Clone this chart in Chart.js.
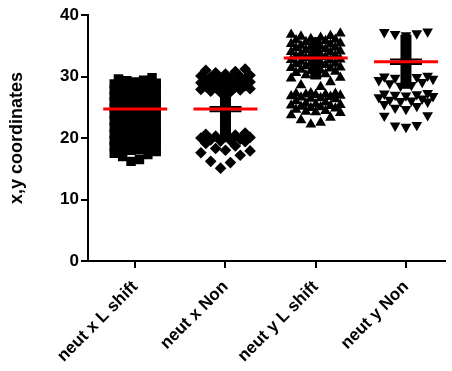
<!DOCTYPE html>
<html>
<head>
<meta charset="utf-8">
<script src="https://cdn.jsdelivr.net/npm/chart.js@4/dist/chart.umd.min.js"></script>
<style>
  html, body { margin: 0; padding: 0; background: #fff; }
  canvas { display: block; }
</style>
</head>
<body>
<canvas id="plot" width="452" height="371"></canvas>
<script>
// Group labels along the x axis
const categories = ['neut x L shift', 'neut x Non', 'neut y L shift', 'neut y Non'];

// Individual measurements per group
const neutXLShift = [
  16.2, 16.5, 17.0, 17.3, 17.5, 17.8,
  18.0, 18.1, 18.3, 18.5, 18.6,
  18.8, 19.0, 19.1, 19.3, 19.5, 19.6,
  19.8, 20.0, 20.1, 20.3, 20.5,
  20.6, 20.8, 21.0, 21.1, 21.3, 21.5,
  21.7, 21.9, 22.1, 22.4, 22.6,
  22.8, 22.9, 23.1, 23.3, 23.4, 23.6,
  23.8, 23.9, 24.1, 24.3, 24.4,
  24.6, 24.7, 24.9, 25.1, 25.2, 25.4,
  25.5, 25.7, 25.9, 26.0, 26.2,
  26.3, 26.5, 26.7, 26.8, 27.0, 27.1,
  27.3, 27.5, 27.6, 27.8, 28.0,
  28.1, 28.3, 28.5, 28.6, 28.8, 28.9,
  29.1, 29.3, 29.4, 29.6, 29.8
];
const neutXNon = [
  15.1, 16.0, 16.2, 17.2, 17.6, 17.9,
  18.0, 18.3, 18.7, 19.1, 19.4,
  19.5, 19.6, 19.7, 19.8, 20.0, 20.1,
  20.2, 20.3, 20.5, 20.6, 20.8,
  27.4, 27.5, 27.6, 27.8, 27.9, 28.0,
  28.1, 28.2, 28.3, 28.4, 28.5,
  28.6, 28.7, 28.8, 28.9, 29.0, 29.1,
  29.2, 29.3, 29.4, 29.5, 29.6,
  29.7, 29.8, 29.9, 30.0, 30.1, 30.2,
  30.4, 30.6, 30.8, 31.0, 31.2
];
const neutYLShift = [
  22.2, 22.5, 22.9, 23.3, 23.7, 24.1,
  24.2, 24.3, 24.4, 24.6, 24.8,
  24.9, 25.0, 25.1, 25.2, 25.3, 25.4,
  25.5, 25.6, 25.8, 26.0, 26.3,
  26.4, 26.5, 26.6, 26.7, 26.8, 26.9,
  27.0, 27.1, 27.1, 27.2, 27.2,
  27.3, 28.3, 28.6, 29.1, 29.7, 29.8,
  30.0, 30.2, 30.4, 30.6, 30.8,
  30.9, 31.0, 31.1, 31.3, 31.4, 31.5,
  31.6, 31.7, 31.9, 32.0, 32.1,
  32.2, 32.3, 32.4, 32.6, 32.7, 32.8,
  32.9, 33.0, 33.2, 33.3, 33.4,
  33.5, 33.6, 33.7, 33.9, 34.0, 34.1,
  34.2, 34.3, 34.5, 34.6, 34.7,
  34.8, 34.9, 35.0, 35.2, 35.3, 35.4,
  35.5, 35.6, 35.8, 35.9, 36.0,
  36.1, 36.3, 36.5, 36.6, 36.8, 37.0
];
const neutYNon = [
  21.8, 22.0, 22.1, 23.6, 23.7,
  24.7, 24.9, 25.2, 25.5, 25.9,
  26.0, 26.1, 26.2, 26.4, 26.6, 26.8,
  26.9, 27.0, 27.1, 27.2, 27.3,
  28.5, 28.6, 28.9, 29.1, 29.4, 29.6,
  29.7, 29.8, 29.9, 30.0, 30.1,
  36.7, 36.9, 37.0, 37.2, 37.3
];

// Summary statistics drawn on each group
const groupMeans = [24.7, 24.7, 33.0, 32.4];
const groupSD = [3.6, 4.5, 3.4, 4.4];
const groupSEM = [0.1, 0.35, 0.1, 0.35];

// Value axis ticks
const yTicks = [0, 10, 20, 30, 40];

// ---- layout / style ----
const FONT = "'Liberation Sans', Arial, Helvetica, sans-serif";
const X_MIN = 0.4764;   // room left of the first group
const X_MAX = 4.436;
const ROW_SPAN = 2.85;  // largest value range gathered into one row of markers

const markerStyles = [
  { pointStyle: 'rect',     radius: 6.7, rotation: 0,   slot: 0.093, cap: 6, alternate: false },
  { pointStyle: 'rectRot',  radius: 5.8, rotation: 0,   slot: 0.109, cap: 6, alternate: true },
  { pointStyle: 'triangle', radius: 6.2, rotation: 0,   slot: 0.109, cap: 6, alternate: true },
  { pointStyle: 'triangle', radius: 6.2, rotation: 180, slot: 0.12,  cap: 6, alternate: true }
];

// Lay the sorted values out in rows: each row starts with its lowest value
// in the middle and places higher values alternately left and right.
function swarm(values, center, style) {
  const { slot, cap, alternate } = style;
  const sorted = [...values].sort((a, b) => a - b);
  const rows = [];
  let row = [];
  sorted.forEach(v => {
    const limit = alternate && rows.length % 2 ? cap - 1 : cap;
    if (row.length && (row.length >= limit || v - row[0] >= ROW_SPAN)) {
      rows.push(row);
      row = [];
    }
    row.push(v);
  });
  if (row.length) rows.push(row);

  const pts = [];
  rows.forEach(r => {
    const n = r.length;
    r.forEach((v, i) => {
      let off;
      if (n % 2) off = i === 0 ? 0 : Math.ceil(i / 2) * (i % 2 ? -1 : 1);
      else off = (Math.floor(i / 2) + 0.5) * (i % 2 ? 1 : -1);
      pts.push({ x: center + off * slot, y: v });
    });
  });
  return pts;
}

const groups = [neutXLShift, neutXNon, neutYLShift, neutYNon];

// SD bar behind the points, mean line (red) with SEM caps on top
const summaryMarks = {
  id: 'summaryMarks',
  beforeDatasetsDraw(chart) {
    const { ctx, scales: { x, y } } = chart;
    ctx.save();
    ctx.fillStyle = '#000';
    groupMeans.forEach((m, i) => {
      const cx = x.getPixelForValue(i + 1);
      const top = y.getPixelForValue(m + groupSD[i]);
      const bot = y.getPixelForValue(m - groupSD[i]);
      ctx.fillRect(cx - 5.5, top, 11, bot - top);
    });
    ctx.restore();
  },
  afterDatasetsDraw(chart) {
    const { ctx, scales: { x, y } } = chart;
    ctx.save();
    groupMeans.forEach((m, i) => {
      const cx = x.getPixelForValue(i + 1);
      const ym = y.getPixelForValue(m);
      const yt = y.getPixelForValue(m + groupSEM[i]);
      const yb = y.getPixelForValue(m - groupSEM[i]);
      ctx.strokeStyle = '#000';
      ctx.lineWidth = 2;
      ctx.beginPath();
      ctx.moveTo(cx - 16, yt); ctx.lineTo(cx + 16, yt);
      ctx.moveTo(cx - 16, yb); ctx.lineTo(cx + 16, yb);
      ctx.moveTo(cx, yt); ctx.lineTo(cx, yb);
      ctx.stroke();
      ctx.strokeStyle = '#ff0000';
      ctx.lineWidth = 3;
      ctx.beginPath();
      ctx.moveTo(cx - 32, ym); ctx.lineTo(cx + 32, ym);
      ctx.stroke();
    });
    ctx.restore();
  }
};

new Chart(document.getElementById('plot'), {
  type: 'scatter',
  data: {
    datasets: groups.map((vals, i) => {
      const s = markerStyles[i];
      return {
        label: categories[i],
        data: swarm(vals, i + 1, s),
        pointStyle: s.pointStyle,
        pointRadius: s.radius,
        pointRotation: s.rotation,
        backgroundColor: '#000',
        borderColor: '#000',
        borderWidth: 0
      };
    })
  },
  options: {
    responsive: false,
    animation: false,
    events: [],
    layout: { padding: { top: 15, right: 2, left: 0, bottom: 0 } },
    plugins: { legend: { display: false }, tooltip: { enabled: false } },
    scales: {
      x: {
        type: 'linear',
        min: X_MIN,
        max: X_MAX,
        afterBuildTicks(s) { s.ticks = [1, 2, 3, 4].map(v => ({ value: v })); },
        afterFit(s) { s.height = 110; },
        grid: { drawOnChartArea: false, drawTicks: true, tickLength: 7, color: '#000', lineWidth: 2 },
        border: { display: true, color: '#000', width: 2 },
        ticks: {
          autoSkip: false,
          minRotation: 45,
          maxRotation: 45,
          padding: 9,
          color: '#000',
          font: { family: FONT, size: 17, weight: 'bold' },
          callback: v => categories[v - 1] ?? ''
        }
      },
      y: {
        min: 0,
        max: 40,
        afterBuildTicks(s) { s.ticks = yTicks.map(v => ({ value: v })); },
        afterFit(s) { s.width = 88; },
        grid: { drawOnChartArea: false, drawTicks: true, tickLength: 7, color: '#000', lineWidth: 2 },
        border: { display: true, color: '#000', width: 2 },
        ticks: {
          padding: 2,
          color: '#000',
          font: { family: FONT, size: 17, weight: 'bold' }
        },
        title: {
          display: true,
          text: 'x,y coordinates',
          color: '#000',
          font: { family: FONT, size: 18, weight: 'bold' },
          padding: { top: 6, bottom: 0 }
        }
      }
    }
  },
  plugins: [summaryMarks]
});
</script>
</body>
</html>
